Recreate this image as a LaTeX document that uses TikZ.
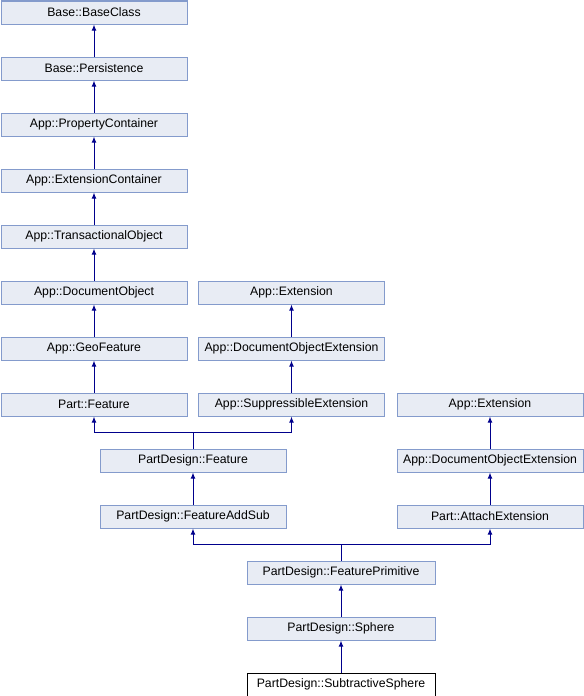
\documentclass[tikz,border=0pt]{standalone}
\usepackage{fontspec}
\setmainfont{Liberation Sans}
\usetikzlibrary{arrows.meta}
\definecolor{boxfill}{RGB}{232,236,244}
\definecolor{boxline}{RGB}{132,155,204}
\definecolor{edgeblue}{RGB}{0,0,140}
\tikzset{
  cls/.style={draw=boxline, fill=boxfill, line width=0.75pt, inner sep=0pt,
    minimum height=17.25pt, font=\fontsize{9.2pt}{10.5pt}\selectfont},
  wide186/.style={minimum width=139.5pt},
  wide188/.style={minimum width=141pt},
  current/.style={cls, draw=black, fill=white},
  edge/.style={draw=edgeblue, line width=0.75pt, -{Latex[length=4.5pt,width=3.6pt]}},
  link/.style={draw=edgeblue, line width=0.75pt}
}
\begin{document}
\begin{tikzpicture}[x=0.75pt,y=-0.75pt]
\useasboundingbox (0,0) rectangle (584,696);
% left column: main inheritance chain
\node[cls,wide186] (base)  at (94,12.5)  {Base::BaseClass};
\node[cls,wide186] (pers)  at (94,68.5)  {Base::Persistence};
\node[cls,wide186] (prop)  at (94,124.5) {App::PropertyContainer};
\node[cls,wide186] (extc)  at (94,180.5) {App::ExtensionContainer};
\node[cls,wide186] (trans) at (94,236.5) {App::TransactionalObject};
\node[cls,wide186] (docobj) at (94,292.5) {App::DocumentObject};
\node[cls,wide186] (geo)   at (94,348.5) {App::GeoFeature};
\node[cls,wide186] (pfeat) at (94,404.5) {Part::Feature};
% extension chain
\node[cls,wide186] (ext1)  at (291.5,292.5) {App::Extension};
\node[cls,wide186] (doext1) at (291.5,348.5) {App::DocumentObjectExtension};
\node[cls,wide186] (supp)  at (291.5,404.5) {App::SuppressibleExtension};
% PartDesign feature
\node[cls,wide186] (pdfeat) at (193,460.5) {PartDesign::Feature};
\node[cls,wide186] (addsub) at (193,516.5) {PartDesign::FeatureAddSub};
% attach extension chain
\node[cls,wide186] (ext2)   at (490,404.5) {App::Extension};
\node[cls,wide186] (doext2) at (490,460.5) {App::DocumentObjectExtension};
\node[cls,wide186] (attach) at (490,516.5) {Part::AttachExtension};
% primitives
\node[cls,wide188] (prim)   at (341,572.5) {PartDesign::FeaturePrimitive};
\node[cls,wide188] (sphere) at (341,628.5) {PartDesign::Sphere};
\node[current,wide188] (subsph) at (341,684.5) {PartDesign::SubtractiveSphere};

% single inheritance edges
\draw[edge] (pers) -- (base);
\draw[edge] (prop) -- (pers);
\draw[edge] (extc) -- (prop);
\draw[edge] (trans) -- (extc);
\draw[edge] (docobj) -- (trans);
\draw[edge] (geo) -- (docobj);
\draw[edge] (pfeat) -- (geo);
\draw[edge] (doext1) -- (ext1);
\draw[edge] (supp) -- (doext1);
\draw[edge] (addsub) -- (pdfeat);
\draw[edge] (doext2) -- (ext2);
\draw[edge] (attach) -- (doext2);
\draw[edge] (sphere) -- (prim);
\draw[edge] (subsph) -- (sphere);

% multiple inheritance: PartDesign::Feature
\coordinate (j1) at (193,432.5);
\draw[link] (pdfeat.north) -- (j1);
\draw[edge] (j1) -| (pfeat.south);
\draw[edge] (j1) -| (supp.south);

% multiple inheritance: PartDesign::FeaturePrimitive
\coordinate (j2) at (341,544.5);
\draw[link] (prim.north) -- (j2);
\draw[edge] (j2) -| (addsub.south);
\draw[edge] (j2) -| (attach.south);
\end{tikzpicture}
\end{document}
